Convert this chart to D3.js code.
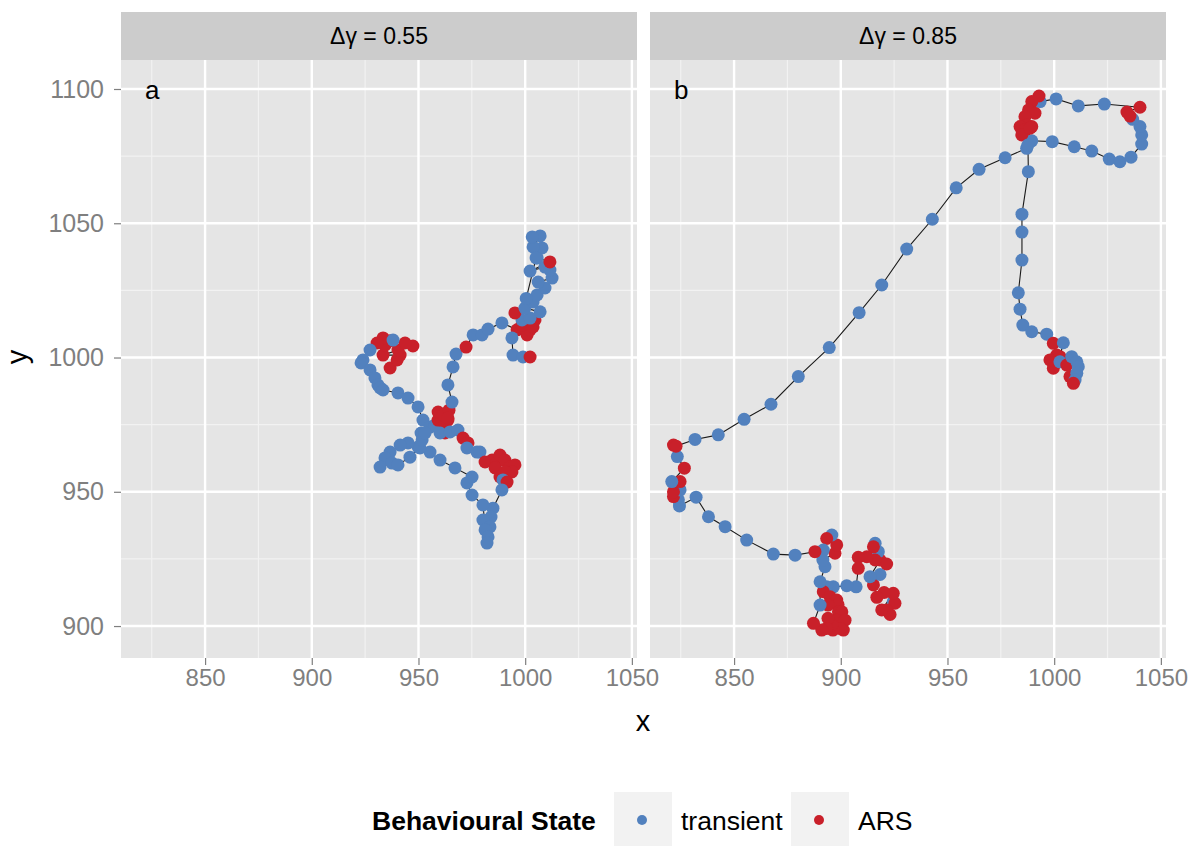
<!DOCTYPE html>
<html>
<head>
<meta charset="utf-8">
<script src="https://cdn.jsdelivr.net/npm/d3@7"></script>
<style>
  body { margin: 0; background: #fff; }
  svg text { font-family: "Liberation Sans", Arial, Helvetica, sans-serif; }
</style>
</head>
<body>
<div id="chart"></div>
<script>
// behavioural states, index used in the tracks below
var states = ["transient", "ARS"];
var stateColors = ["#5281BE", "#C9202A"];

var panelTitles = ["\u0394\u03b3 = 0.55", "\u0394\u03b3 = 0.85"];
var panelTags = ["a", "b"];

var xTicks = [850, 900, 950, 1000, 1050];
var yTicks = [900, 950, 1000, 1050, 1100];
var xMinor = [825, 875, 925, 975, 1025];
var yMinor = [925, 975, 1025, 1075];

// track for delta gamma = 0.55 : [x, y, state]
var trackA = [
  [936.7,996.1,1],[940.0,999.1,1],[941.4,1000.9,1],[933.4,1000.9,1],[940.4,1002.8,1],[947.4,1004.3,1],
  [943.7,1005.4,1],[936.7,1006.2,1],[934.3,1004.6,1],[933.4,1007.3,1],[938.1,1006.5,0],[930.6,1005.4,1],
  [927.3,1002.8,0],[924.0,999.1,0],[923.1,998.0,0],[927.3,995.4,0],[929.6,992.4,0],
  [931.0,989.8,0],[932.0,988.7,0],[933.4,987.9,0],[940.4,986.8,0],[945.1,984.9,0],
  [949.8,981.6,0],[952.1,976.7,0],[955.4,974.1,0],[951.2,971.9,0],[957.8,974.9,0],
  [960.1,977.9,1],[959.2,976.7,1],[963.8,976.7,1],[962.4,974.9,1],[962.4,971.9,1],[960.1,971.9,0],[964.8,972.3,0],
  [968.5,973.0,0],[970.9,970.0,1],[973.2,968.2,1],[972.7,966.3,0],[977.4,964.8,0],
  [978.8,964.8,0],[981.2,961.1,1],[984.5,961.8,1],[986.8,961.1,1],[988.2,963.7,1],[990.5,961.8,1],[992.9,959.2,1],
  [995.2,960.0,1],[993.8,957.4,1],[985.9,958.9,1],[988.2,955.5,1],[990.5,957.4,1],[989.6,954.4,0],
  [991.5,953.6,1],[989.1,950.7,0],[984.9,943.9,0],[984.0,940.6,0],[980.2,939.5,0],
  [983.5,936.9,0],[981.2,935.8,0],[982.6,933.2,0],[982.1,930.9,0],[980.2,945.1,0],
  [975.1,948.8,0],[972.7,953.3,0],[975.1,955.5,0],[967.1,958.9,0],[960.1,961.8,0],
  [955.4,964.8,0],[949.8,966.7,0],[945.1,968.2,0],[941.4,967.4,0],[936.7,964.8,0],
  [934.3,962.6,0],[932.0,959.2,0],[937.6,960.7,0],[940.4,960.0,0],[946.0,962.9,0],
  [950.7,966.3,0],[951.7,969.3,0],[953.1,971.9,0],[959.2,979.7,1],[961.5,978.6,1],
  [964.3,980.4,1],[963.8,977.5,1],[965.7,983.4,0],[963.8,989.8,0],[966.2,996.5,0],
  [967.6,1001.3,0],[972.3,1003.9,1],[975.6,1008.4,0],[979.8,1008.4,0],[982.6,1010.6,0],
  [989.1,1012.9,0],[996.2,1010.3,1],[999.9,1010.3,1],[1000.9,1008.4,1],[1002.3,1010.3,1],[998.5,1012.1,1],
  [1003.7,1011.4,1],[1004.6,1014.0,1],[998.5,1014.0,0],[1002.3,1014.7,0],[995.2,1016.6,1],[999.9,1018.4,0],
  [1007.0,1017.0,0],[1003.7,1020.7,0],[1005.6,1023.3,0],[1009.3,1025.9,0],[1006.1,1028.1,0],
  [1012.6,1029.6,0],[1011.6,1032.6,0],[1009.3,1033.7,0],[1002.3,1032.2,0],[1011.6,1035.6,1],
  [1005.6,1037.1,0],[1007.9,1040.8,0],[1003.7,1041.2,0],[1007.0,1045.3,0],[1003.3,1044.9,0],
  [1005.1,1037.1,0],[1000.5,1022.0,0],[993.8,1007.3,0],[994.3,1000.9,0],[999.0,1000.2,0],
  [1002.3,1000.2,1]
];

// track for delta gamma = 0.85 : [x, y, state]
var trackB = [
  [924.6,909.1,0],[925.4,908.5,1],[923.1,904.3,1],[921.5,906.0,1],[919.2,906.0,1],[924.6,912.2,1],
  [920.3,912.5,1],[916.9,910.7,1],[915.3,915.3,1],[918.4,919.2,0],[913.7,918.4,0],[918.4,924.6,1],
  [921.5,923.1,1],[917.6,927.7,0],[916.1,930.8,0],[915.3,929.5,1],[916.1,924.6,1],[912.2,925.8,1],
  [908.2,925.6,1],[908.2,921.5,1],[907.2,914.6,0],[902.8,915.0,0],[896.5,914.6,0],
  [893.4,914.6,0],[891.8,912.8,1],[895.0,910.9,1],[898.1,909.7,1],[898.7,908.0,1],[894.0,907.8,1],[898.9,905.3,1],
  [900.5,905.3,1],[898.1,902.2,1],[902.0,902.2,1],[901.2,898.5,1],[899.7,899.1,1],[896.3,898.5,1],[895.8,900.4,1],
  [894.0,902.9,1],[893.4,899.1,1],[891.1,898.5,1],[887.2,901.0,1],[890.3,907.8,0],[890.3,916.5,0],
  [892.6,922.1,0],[891.6,924.6,0],[897.3,927.1,1],[898.1,930.2,1],[895.8,933.9,0],
  [893.4,932.6,1],[891.8,928.3,0],[887.9,927.7,1],[878.6,926.4,0],[868.4,926.8,0],
  [855.9,932.0,0],[845.8,937.0,0],[838.0,940.7,0],[832.2,948.0,0],[824.4,944.7,0],
  [823.9,947.0,0],[821.6,948.2,1],[824.7,950.7,0],[821.6,950.0,1],[824.7,953.8,1],
  [820.8,953.8,0],[826.7,958.8,1],[823.4,963.1,0],[821.6,967.4,1],[822.8,967.0,1],
  [831.7,969.5,0],[842.6,971.2,0],[854.7,977.0,0],[867.3,982.6,0],[880.1,992.9,0],
  [894.6,1003.7,0],[908.6,1016.7,0],[919.2,1027.0,0],[930.9,1040.4,0],[942.9,1051.5,0],
  [954.1,1063.2,0],[964.8,1070.1,0],[977.0,1074.4,0],[987.1,1077.9,0],[989.5,1080.7,0],
  [999.1,1080.4,0],[1009.4,1078.5,0],[1017.6,1076.9,0],[1025.8,1073.9,0],[1030.8,1072.9,0],
  [1036.0,1074.6,0],[1041.0,1079.5,0],[1041.0,1082.9,0],[1040.2,1086.0,0],[1036.8,1088.7,0],
  [1035.5,1089.9,1],[1034.1,1091.4,1],[1040.2,1093.2,1],[1023.5,1094.4,0],[1011.3,1093.7,0],
  [1000.9,1096.3,0],[993.4,1095.3,0],[992.9,1097.4,1],[989.5,1095.3,1],[988.0,1092.2,1],[991.0,1091.0,1],
  [986.3,1089.7,1],[987.1,1086.6,1],[984.0,1086.0,1],[986.2,1084.7,1],[989.5,1086.0,1],[984.8,1082.9,1],
  [988.7,1085.4,1],[987.7,1079.1,0],[987.9,1069.2,0],[984.9,1053.4,0],[984.9,1046.7,0],
  [984.9,1036.3,0],[983.2,1024.1,0],[984.0,1018.0,0],[985.3,1012.1,0],[989.5,1009.6,0],
  [996.5,1008.7,0],[999.6,1005.3,1],[1004.3,1005.5,0],[1002.7,1000.3,1],[1001.2,1000.9,1],
  [998.0,999.1,1],[999.6,996.0,1],[1002.7,998.4,0],[1005.9,997.2,1],[1008.2,1000.3,0],
  [1010.6,998.4,0],[1011.3,996.6,0],[1007.4,992.9,1],[1010.6,994.1,0],[1009.8,991.6,0],
  [1009.0,990.4,1]
];

var tracks = [trackA, trackB];

var W = 1200, H = 846;
var panelW = 516, panelH = 598;
var panelLeft = [121, 650], panelTop = 60, stripH = 48;

var svg = d3.select("#chart").append("svg")
    .attr("width", W)
    .attr("height", H);

var x = d3.scaleLinear()
    .domain([810.6, 1052.4])
    .range([0, panelW]);

var y = d3.scaleLinear()
    .domain([888.1, 1110.8])
    .range([panelH, 0]);

var line = d3.line()
    .x(function(d) { return x(d[0]); })
    .y(function(d) { return y(d[1]); });

tracks.forEach(function(track, i) {
  var g = svg.append("g")
      .attr("transform", "translate(" + panelLeft[i] + "," + panelTop + ")");

  // strip
  g.append("rect")
    .attr("x", 0).attr("y", -stripH)
    .attr("width", panelW).attr("height", stripH)
    .attr("fill", "#CCCCCC");
  g.append("text")
    .text(panelTitles[i])
    .attr("x", panelW / 2)
    .attr("y", -stripH / 2 + 8)
    .attr("text-anchor", "middle")
    .style("font-size", "23px")
    .attr("fill", "#000");

  // background + grid
  g.append("rect")
    .attr("width", panelW).attr("height", panelH)
    .attr("fill", "#E5E5E5");

  g.selectAll(".xminor").data(xMinor).enter().append("line")
    .attr("x1", x).attr("x2", x).attr("y1", 0).attr("y2", panelH)
    .attr("stroke", "#F2F2F2").attr("stroke-width", 1.2);
  g.selectAll(".yminor").data(yMinor).enter().append("line")
    .attr("y1", y).attr("y2", y).attr("x1", 0).attr("x2", panelW)
    .attr("stroke", "#F2F2F2").attr("stroke-width", 1.2);
  g.selectAll(".xmajor").data(xTicks).enter().append("line")
    .attr("x1", x).attr("x2", x).attr("y1", 0).attr("y2", panelH)
    .attr("stroke", "#FFFFFF").attr("stroke-width", 2.4);
  g.selectAll(".ymajor").data(yTicks).enter().append("line")
    .attr("y1", y).attr("y2", y).attr("x1", 0).attr("x2", panelW)
    .attr("stroke", "#FFFFFF").attr("stroke-width", 2.4);

  // track
  g.append("path")
    .datum(track)
    .attr("d", line)
    .attr("fill", "none")
    .attr("stroke", "#1a1a1a")
    .attr("stroke-width", 1.1);

  g.append("g")
    .selectAll("circle")
    .data(track)
    .enter()
    .append("circle")
      .attr("cx", function(d) { return x(d[0]); })
      .attr("cy", function(d) { return y(d[1]); })
      .attr("r", 6.5)
      .attr("fill", function(d) { return stateColors[d[2]]; });

  g.append("text")
    .text(panelTags[i])
    .attr("x", 24)
    .attr("y", 39)
    .style("font-size", "26px")
    .attr("fill", "#000");

  // x axis
  var xa = g.append("g")
      .attr("transform", "translate(0," + panelH + ")")
      .call(d3.axisBottom(x).tickValues(xTicks).tickFormat(d3.format("d"))
        .tickSize(7).tickPadding(4));
  xa.select(".domain").remove();
  xa.selectAll("line").attr("stroke", "#7F7F7F").attr("stroke-width", 1.2);
  xa.selectAll("text")
    .attr("fill", "#7F7F7F")
    .style("font-size", "24px")
    .style("font-family", "'Liberation Sans', Arial, sans-serif");

  if (i == 0) {
    var ya = g.append("g")
        .call(d3.axisLeft(y).tickValues(yTicks).tickFormat(d3.format("d"))
          .tickSize(7).tickPadding(10));
    ya.select(".domain").remove();
    ya.selectAll("line").attr("stroke", "#7F7F7F").attr("stroke-width", 1.2);
    ya.selectAll("text")
      .attr("fill", "#7F7F7F")
      .style("font-size", "25px")
      .style("font-family", "'Liberation Sans', Arial, sans-serif");
  }
});

// axis titles
svg.append("text")
  .text("x")
  .attr("x", 643)
  .attr("y", 731)
  .attr("text-anchor", "middle")
  .style("font-size", "29px");

svg.append("g")
  .attr("transform", "translate(27,357)")
  .append("text")
  .text("y")
  .attr("text-anchor", "middle")
  .attr("transform", "rotate(-90)")
  .style("font-size", "29px");

// legend
var legend = svg.append("g");
legend.append("text")
  .text("Behavioural State")
  .attr("x", 372)
  .attr("y", 830)
  .style("font-size", "26.5px")
  .style("font-weight", "bold");

var keyX = [614, 791];
var labelX = [681, 858];
states.forEach(function(s, i) {
  legend.append("rect")
    .attr("x", keyX[i]).attr("y", 792)
    .attr("width", 58).attr("height", 60)
    .attr("fill", "#F2F2F2");
  legend.append("circle")
    .attr("cx", keyX[i] + 28).attr("cy", 820)
    .attr("r", 5)
    .attr("fill", stateColors[i]);
  legend.append("text")
    .text(s)
    .attr("x", labelX[i])
    .attr("y", 830)
    .style("font-size", "26.5px");
});
</script>
</body>
</html>
